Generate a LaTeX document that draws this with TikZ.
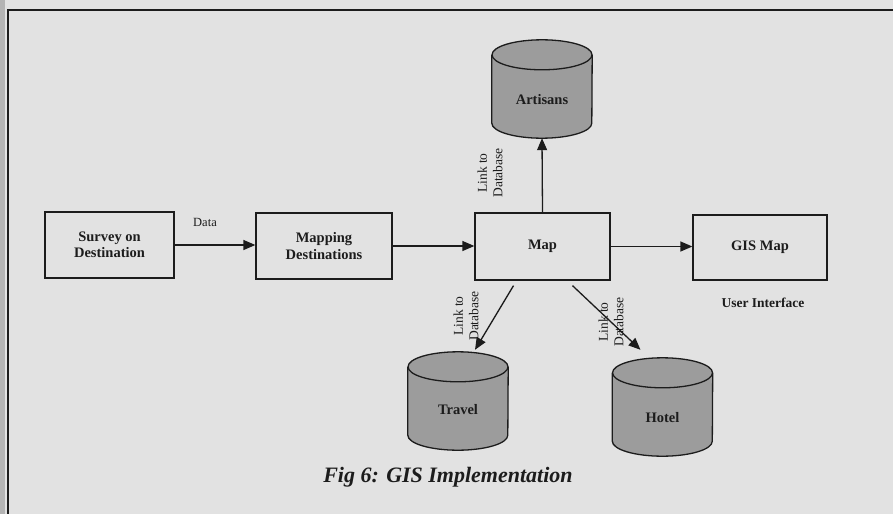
\documentclass[tikz,border=0pt]{standalone}
\usepackage{fontspec}
\setmainfont{Liberation Serif}
\usetikzlibrary{arrows.meta,calc}
\definecolor{bgc}{HTML}{E2E2E2}
\definecolor{edgec}{HTML}{B4B4B4}
\definecolor{cylc}{HTML}{9C9C9C}
\definecolor{inkc}{HTML}{1C1C1C}
\begin{document}
\begin{tikzpicture}[x=1pt,y=-1pt,
  box/.style={draw=inkc,line width=1.3pt,minimum height=66pt,align=center,
    font=\fontsize{14.5}{16.5}\selectfont\bfseries,inner sep=0pt,text=inkc},
  link/.style={draw=inkc,line width=1.3pt,-{Triangle[length=12pt,width=10pt]}},
  lbl/.style={rotate=90,align=center,font=\fontsize{13.5}{15.5}\selectfont,inner sep=0pt,text=inkc},
  cylbox/.style={minimum width=100pt,minimum height=98pt,inner sep=0pt},
  cyltext/.style={font=\fontsize{14.5}{16}\selectfont\bfseries,text=inkc,inner sep=0pt},
  cylface/.style={fill=cylc},
  cylline/.style={draw=inkc,line width=1.3pt},
]
\useasboundingbox (0,0) rectangle (893,514);
\fill[bgc] (0,0) rectangle (893,514);
\fill[edgec] (0,0) rectangle (5,514);
\draw[inkc,line width=1.3pt] (893,10) -- (8,10) -- (8,514);

% process boxes
\node[box,minimum width=129pt] (survey) at (109.5,245) {Survey on\\Destination};
\node[box,minimum width=136pt] (mapping) at (324,246) {Mapping\\Destinations};
\node[box,minimum width=135pt,minimum height=67pt] (map) at (542.5,246.5) {Map};
\node[box,minimum width=134pt,minimum height=65pt] (gis) at (760,247.5) {GIS Map};

% cylinders
\newcommand\dbcyl[1]{%
  \path[cylface] ($(#1.north west)+(0,15)$) -- ($(#1.south west)+(0,-15)$)
    arc[start angle=180,end angle=360,x radius=50pt,y radius=15pt]
    -- ($(#1.north east)+(0,15)$)
    arc[start angle=0,end angle=180,x radius=50pt,y radius=15pt] -- cycle;
  \draw[cylline] ($(#1.north west)+(0,15)$) -- ($(#1.south west)+(0,-15)$)
    arc[start angle=180,end angle=360,x radius=50pt,y radius=15pt]
    -- ($(#1.north east)+(0,15)$);
  \draw[cylline] ($(#1.north)+(0,15)$) ellipse[x radius=50pt,y radius=15pt];
}
\node[cylbox] (art) at (542,89) {};
\dbcyl{art}
\node[cyltext] (artt) at (542,100) {Artisans};
\node[cylbox] (trav) at (458,401) {};
\dbcyl{trav}
\node[cyltext] (travt) at (458,410) {Travel};
\node[cylbox] (hot) at (662.5,407) {};
\dbcyl{hot}
\node[cyltext] (hott) at (662.5,418) {Hotel};

% connectors
\draw[link] (survey.east) -- (survey.east -| mapping.west);
\draw[link] (mapping.east) -- (mapping.east -| map.west);
\draw[link] (map.east) -- (map.east -| gis.west);
\draw[link] (map.north) -- (art.south);
\coordinate (t0) at ($(map.south)+(-29,5)$);
\coordinate (t1) at ($(trav.north)+(17,-2)$);
\draw[link] (t0) -- (t1);
\coordinate (h0) at ($(map.south)+(30,5)$);
\coordinate (h1) at ($(hot.north)+(-22,-8)$);
\draw[link] (h0) -- (h1);

% labels
\node[font=\fontsize{12.5}{14}\selectfont,text=inkc] (data) at (205,222) {Data};
\node[lbl] (l1) at (490,173) {Link to\\Database};
\node[lbl] (l2) at (466,316) {Link to\\Database};
\node[lbl] (l3) at (611,322) {Link to\\Database};
\node[font=\fontsize{13.5}{15}\selectfont\bfseries,text=inkc] (ui) at (763,303) {User Interface};
\node[font=\fontsize{22}{25}\selectfont\bfseries\itshape,text=inkc] (cap) at (448,477) {Fig 6: GIS Implementation};
\end{tikzpicture}
\end{document}
